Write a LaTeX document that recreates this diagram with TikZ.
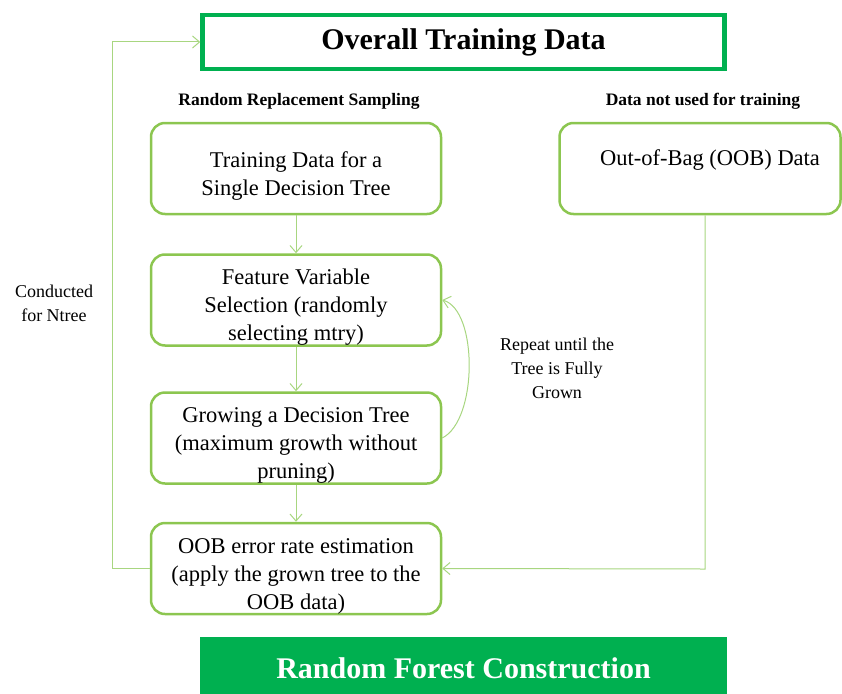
\documentclass[tikz,border=0pt]{standalone}
\usepackage{fontspec}
\setmainfont{Liberation Serif}
\usetikzlibrary{arrows.meta, positioning}
\definecolor{vertFort}{RGB}{0, 176, 80}
\definecolor{vertBord}{RGB}{140, 198, 80}
\definecolor{vertFleche}{RGB}{168, 214, 128}
\newcommand{\topgap}{\rule{0pt}{30pt}}

\begin{document}
\begin{tikzpicture}[x=1pt, y=-1pt,
  titlebox/.style={rectangle, draw=vertFort, line width=4.5pt,
    minimum width=522pt, minimum height=54pt, align=center,
    font=\fontsize{30}{36}\selectfont\bfseries},
  stepbox/.style={rectangle, rounded corners=14pt, draw=vertBord,
    line width=2.5pt, fill=white, minimum width=290pt,
    minimum height=91pt, inner ysep=0pt, align=center,
    font=\fontsize{22.5}{28}\selectfont},
  endbox/.style={rectangle, fill=vertFort, minimum width=527pt,
    minimum height=62pt, text=white, align=center,
    font=\fontsize{30}{36}\selectfont\bfseries},
  arr/.style={-{Straight Barb[length=7pt, width=12pt]}, draw=vertFleche,
    line width=1pt},
  lbl/.style={font=\fontsize{17.5}{24}\selectfont\bfseries, align=center},
  side/.style={font=\fontsize{18}{24}\selectfont, align=center},
]
\useasboundingbox (0,0) rectangle (842,693);
\node[titlebox] (overall) at (463.5, 42) {Overall Training Data};
\node[lbl]      (rrs)     at (299, 101) {Random Replacement Sampling};
\node[lbl]      (unused)  at (703, 101) {Data not used for training};
\node[stepbox]  (single)  at (296, 168.5)
  {\topgap Training Data for a\\Single Decision Tree};
\node[stepbox]  (feature) at (296, 300)
  {\topgap Feature Variable\\Selection (randomly\\selecting mtry)};
\node[stepbox]  (grow)    at (296, 438)
  {\topgap Growing a Decision Tree\\(maximum growth without\\pruning)};
\node[stepbox]  (oobest)  at (296, 568.5)
  {\topgap OOB error rate estimation\\(apply the grown tree to the\\OOB data)};
\node[stepbox, minimum width=281pt] (oob) at (700, 168.5)
  {\topgap\hspace*{20pt}Out-of-Bag (OOB) Data\\\strut};
\node[endbox]   (forest)  at (463.5, 668) {Random Forest Construction};
\node[side]     (ntree)   at (54, 303) {Conducted\\for Ntree};
\node[side]     (repeat)  at (557, 368) {Repeat until the\\Tree is Fully\\Grown};
\coordinate (loop) at (112, 42);
\coordinate (oobturn) at (705, 569);
\draw[arr] (single) -- (feature);
\draw[arr] (feature) -- (grow);
\draw[arr] (grow) -- (oobest);
\draw[arr] (grow.east) .. controls (478, 420) and (478, 310) .. (feature.east);
\draw[arr] (oob.south -| oobturn) -- (oobturn) -- (oobest.east);
\draw[arr] (oobest.west) -| (loop) -- (overall.west);
\end{tikzpicture}
\end{document}
